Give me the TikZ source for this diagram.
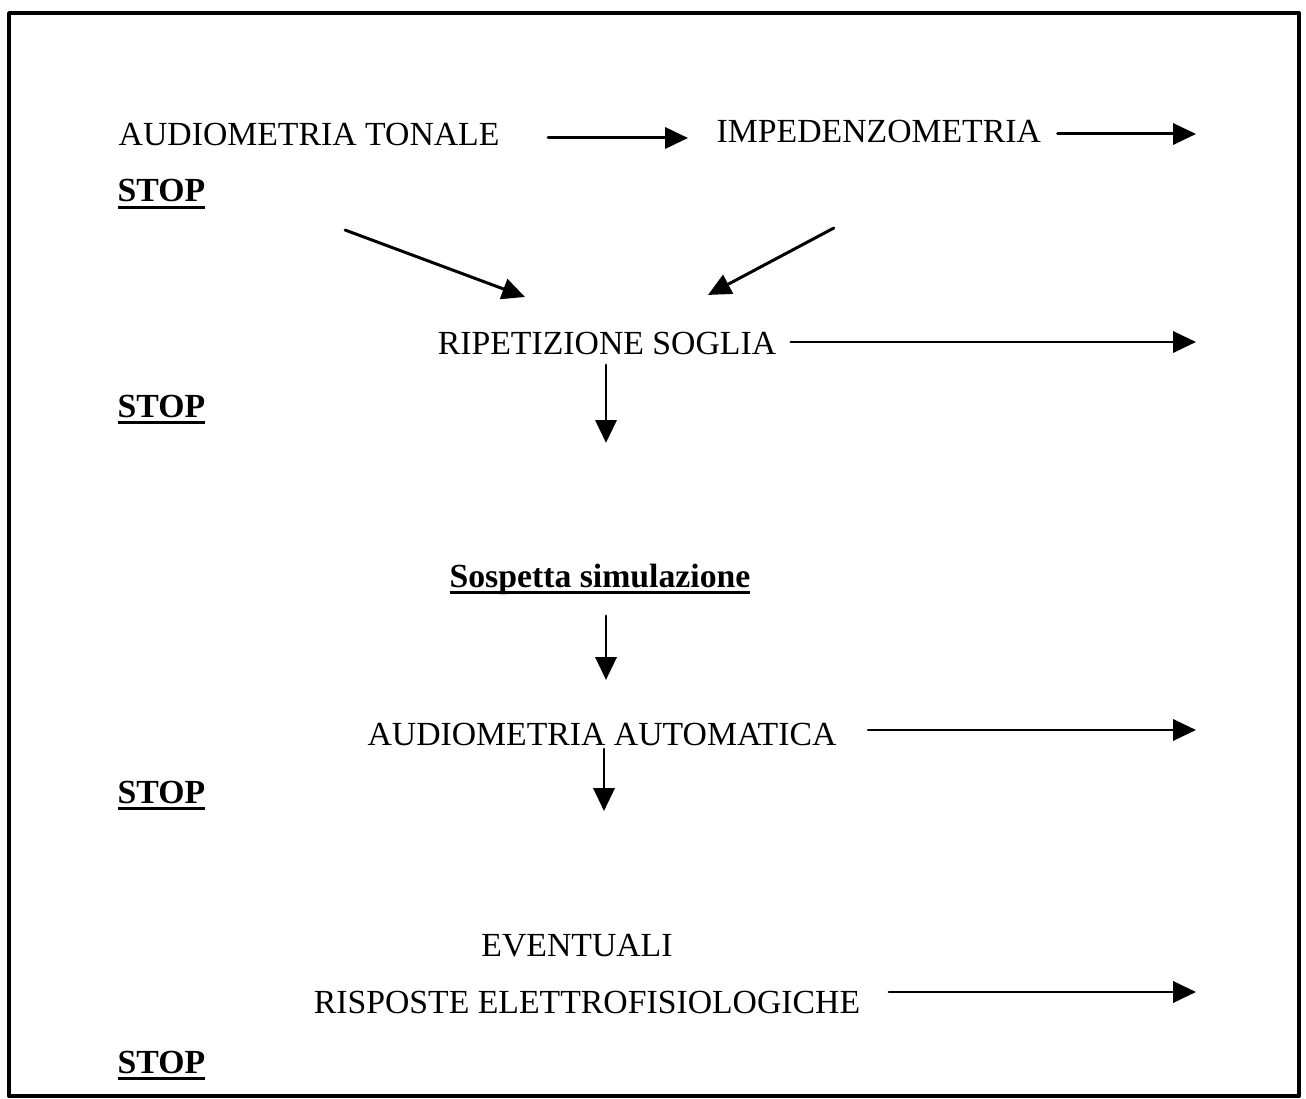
\documentclass[tikz,border=0pt]{standalone}
\usepackage{fontspec}
\setmainfont{Liberation Serif}
\usetikzlibrary{arrows.meta,positioning}
\newcommand{\ulword}[1]{\setbox0\hbox{#1}\rlap{\rule[-2pt]{\wd0}{0.9pt}}\box0}
\tikzset{
  lbl/.style={inner sep=0pt, font=\fontsize{9.6}{11}\selectfont},
  stoplbl/.style={lbl, anchor=base west, font=\fontsize{9.6}{11}\selectfont\bfseries},
  arr/.style={-{Triangle[length=6.5pt,width=6pt]}, line width=0.85pt},
  every picture/.style={line cap=round, line join=round}
}
\begin{document}
\begin{tikzpicture}[x=0.1mm,y=-0.1mm]
  \useasboundingbox (0,0) rectangle (1306,1099);
  \draw[line width=1.1pt] (9,13) rectangle (1299,1096);
  \coordinate (rim) at (1196,0);
  % first row
  \node[lbl,anchor=base west] (tonale) at (118,146) {AUDIOMETRIA TONALE};
  \node[lbl,anchor=base west] (impedenz) at (716,143) {IMPEDENZOMETRIA};
  \node[stoplbl] (stopA) at (117,202) {\ulword{STOP}};
  \draw[arr] ([shift={(48,3)}]tonale.east) -- ([shift={(-28,3)}]tonale.east -| impedenz.west);
  \draw[arr] ([shift={(16,2)}]impedenz.east) -- ([shift={(0,2)}]impedenz.east -| rim);
  % threshold repetition
  \node[lbl,anchor=base] (ripet) at (607,355) {RIPETIZIONE SOGLIA};
  \node[stoplbl] (stopB) at (117,417) {\ulword{STOP}};
  \draw[arr] ([shift={(36,83)}]tonale.south) -- ([shift={(-82,-35)}]ripet.north);
  \draw[arr] ([shift={(-45,84)}]impedenz.south) -- ([shift={(101,-37)}]ripet.north);
  \draw[arr] ([shift={(14,-2)}]ripet.east) -- ([shift={(0,-2)}]ripet.east -| rim);
  % suspected simulation
  \node[lbl,anchor=base,font=\fontsize{9.6}{11}\selectfont\bfseries] (sospetto) at (600,587) {\ulword{Sospetta simulazione}};
  \draw[arr] ([shift={(-1,9)}]ripet.south) -- ([shift={(6,-120)}]sospetto.north);
  % automatic audiometry
  \node[lbl,anchor=base] (automat) at (602,745) {AUDIOMETRIA AUTOMATICA};
  \node[stoplbl] (stopC) at (117,803) {\ulword{STOP}};
  \draw[arr] ([shift={(6,21)}]sospetto.south) -- ([shift={(4,-42)}]automat.north);
  \draw[arr] ([shift={(31,-4)}]automat.east) -- ([shift={(0,-4)}]automat.east -| rim);
  % electrophysiology
  \node[lbl,anchor=base] (eventuali) at (577,956) {EVENTUALI};
  \node[lbl,anchor=base] (risposte) at (587,1013) {RISPOSTE ELETTROFISIOLOGICHE};
  \node[stoplbl] (stopD) at (117,1073) {\ulword{STOP}};
  \draw[arr] ([shift={(2,3)}]automat.south) -- ([shift={(27,-122)}]eventuali.north);
  \draw[arr] ([shift={(28,-10)}]risposte.east) -- ([shift={(0,-10)}]risposte.east -| rim);
\end{tikzpicture}
\end{document}
